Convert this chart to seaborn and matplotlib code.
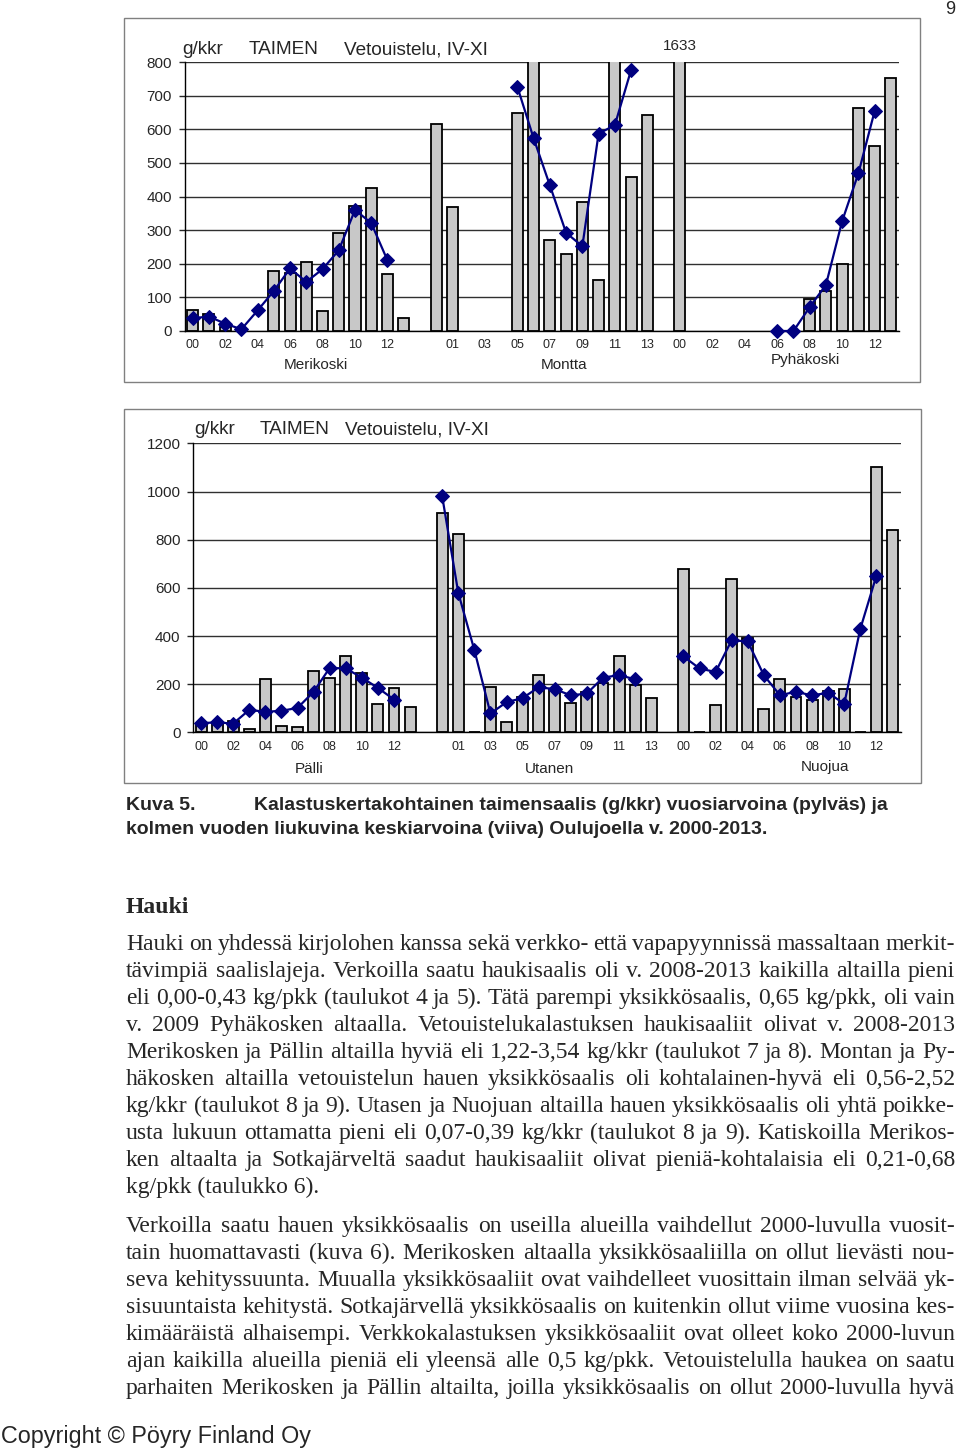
import numpy as np
import pandas as pd
import matplotlib
matplotlib.use("Agg")
import matplotlib.pyplot as plt
import seaborn as sns
from matplotlib.patches import Rectangle

nan = np.nan

# ---------------- data ----------------
years = ["00", "01", "02", "03", "04", "05", "06", "07", "08", "09", "10", "11", "12", "13"]

# top chart
merikoski_bar = [62, 52, 13, nan, nan, 179, 173, 205, 59, 290, 373, 426, 169, 39]
merikoski_avg = [38, 43, 22, 5, 61, 119, 186, 146, 184, 240, 360, 321, 210, nan]
montta_bar = [616, 369, nan, nan, nan, 648, 805, 270, 228, 383, 151, 1227, 459, 641]
montta_avg = [nan, nan, nan, nan, nan, 726, 573, 433, 292, 252, 587, 612, 776, nan]
pyhakoski_bar = [1633, nan, nan, nan, nan, nan, 0, 0, 94, 120, 200, 663, 550, 752]
pyhakoski_avg = [nan, nan, nan, nan, nan, nan, 0, 0, 71, 137, 327, 469, 654, nan]
top_groups = ["Merikoski", "Montta", "Pyhäkoski"]

# bottom chart
palli_bar = [32, 37, 48, 14, 221, 25, 24, 256, 228, 317, 249, 119, 185, 107]
palli_avg = [39, 42, 37, 94, 86, 90, 102, 169, 268, 266, 228, 185, 137, nan]
utanen_bar = [913, 826, 0, 191, 43, 147, 239, 180, 122, 170, 205, 316, 197, 144]
utanen_avg = [980, 579, 342, 79, 126, 143, 188, 180, 154, 162, 228, 238, 221, nan]
nuojua_bar = [677, 0, 116, 637, 393, 98, 221, 149, 136, 174, 179, 0, 1103, 839]
nuojua_avg = [316, 266, 251, 383, 378, 238, 155, 169, 154, 165, 119, 430, 651, nan]
bottom_groups = ["Pälli", "Utanen", "Nuojua"]

chart_title = ["g/kkr", "TAIMEN", "Vetouistelu, IV-XI"]
top_yticks = [0, 100, 200, 300, 400, 500, 600, 700, 800]
bottom_yticks = [0, 200, 400, 600, 800, 1000, 1200]
clipped_label = "1633"

caption_1a = "Kuva 5."
caption_1b = "Kalastuskertakohtainen taimensaalis (g/kkr) vuosiarvoina (pylväs) ja"
caption_2 = "kolmen vuoden liukuvina keskiarvoina (viiva) Oulujoella v. 2000-2013."
heading = "Hauki"
para1 = [
    "Hauki on yhdessä kirjolohen kanssa sekä verkko- että vapapyynnissä massaltaan merkit-",
    "tävimpiä saalislajeja. Verkoilla saatu haukisaalis oli v. 2008-2013 kaikilla altailla pieni",
    "eli 0,00-0,43 kg/pkk (taulukot 4 ja 5). Tätä parempi yksikkösaalis, 0,65 kg/pkk, oli vain",
    "v. 2009 Pyhäkosken altaalla. Vetouistelukalastuksen haukisaaliit olivat v. 2008-2013",
    "Merikosken ja Pällin altailla hyviä eli 1,22-3,54 kg/kkr (taulukot 7 ja 8). Montan ja Py-",
    "häkosken altailla vetouistelun hauen yksikkösaalis oli kohtalainen-hyvä eli 0,56-2,52",
    "kg/kkr (taulukot 8 ja 9). Utasen ja Nuojuan altailla hauen yksikkösaalis oli yhtä poikke-",
    "usta lukuun ottamatta pieni eli 0,07-0,39 kg/kkr (taulukot 8 ja 9). Katiskoilla Merikos-",
    "ken altaalta ja Sotkajärveltä saadut haukisaaliit olivat pieniä-kohtalaisia eli 0,21-0,68",
    "kg/pkk (taulukko 6).",
]
para2 = [
    "Verkoilla saatu hauen yksikkösaalis on useilla alueilla vaihdellut 2000-luvulla vuosit-",
    "tain huomattavasti (kuva 6). Merikosken altaalla yksikkösaaliilla on ollut lievästi nou-",
    "seva kehityssuunta. Muualla yksikkösaaliit ovat vaihdelleet vuosittain ilman selvää yk-",
    "sisuuntaista kehitystä. Sotkajärvellä yksikkösaalis on kuitenkin ollut viime vuosina kes-",
    "kimääräistä alhaisempi. Verkkokalastuksen yksikkösaaliit ovat olleet koko 2000-luvun",
    "ajan kaikilla alueilla pieniä eli yleensä alle 0,5 kg/pkk. Vetouistelulla haukea on saatu",
    "parhaiten Merikosken ja Pällin altailta, joilla yksikkösaalis on ollut 2000-luvulla hyvä",
]
copyright_text = "Copyright © Pöyry Finland Oy"
page_number = "9"

# ---------------- setup ----------------
sns.set_style("white")
plt.rcParams["font.family"] = ["Liberation Sans", "DejaVu Sans"]

W, H = 960, 1451
fig = plt.figure(figsize=(W / 100, H / 100), dpi=100)
fig.patch.set_facecolor("white")


def fx(px):
    return px / W


def fy(py):
    return 1 - py / H


BAR_COLOR = "#c8c8c8"
LINE_COLOR = "#000080"
N = 44  # 3 groups x 14 years + 2 gap slots


def build_frames(bars_list, avgs_list):
    rows_b, rows_a = [], []
    for g, (b, a) in enumerate(zip(bars_list, avgs_list)):
        for i in range(len(years)):
            pos = g * 15 + i
            if not np.isnan(b[i]):
                rows_b.append({"pos": pos, "val": b[i]})
            rows_a.append({"pos": pos, "val": a[i], "grp": g})
    return pd.DataFrame(rows_b), pd.DataFrame(rows_a)


def draw_chart(ax, bars_list, avgs_list, ymax, yticks):
    dfb, dfa = build_frames(bars_list, avgs_list)
    sns.barplot(data=dfb, x="pos", y="val", order=list(range(N)), color=BAR_COLOR,
                saturation=1, edgecolor="black", linewidth=1.3, width=0.68,
                errorbar=None, ax=ax, zorder=2)
    for g in range(len(avgs_list)):
        sub = dfa[(dfa["grp"] == g)].dropna()
        sns.lineplot(data=sub, x="pos", y="val", color=LINE_COLOR, marker="D",
                     markersize=7, markeredgecolor=LINE_COLOR, markerfacecolor=LINE_COLOR,
                     linewidth=1.6, ax=ax, clip_on=False, zorder=4)
    ax.set_xlim(-0.5, N - 0.5)
    ax.set_ylim(0, ymax)
    ax.set_yticks(yticks)
    ax.set_yticklabels([str(t) for t in yticks], fontsize=11)
    cat_labels = years + [""] + years + [""] + years
    ticks = list(range(0, N, 2))
    ax.set_xticks(ticks)
    ax.set_xticklabels([cat_labels[t] for t in ticks], fontsize=9)
    ax.tick_params(axis="x", length=0, pad=6)
    ax.tick_params(axis="y", length=4, width=1, direction="out", pad=5, left=True)
    ax.set_axisbelow(True)
    ax.yaxis.grid(True, color="#303030", linewidth=1.0)
    ax.xaxis.grid(False)
    for s in ["top", "right"]:
        ax.spines[s].set_visible(False)
    for s in ["left", "bottom"]:
        ax.spines[s].set_color("black")
        ax.spines[s].set_linewidth(1.0)
    ax.set_xlabel("")
    ax.set_ylabel("")
    ax.set_facecolor("white")


# ----- top chart -----
fig.add_artist(Rectangle((fx(124), fy(382)), fx(920) - fx(124), (382 - 18) / H,
                         transform=fig.transFigure, fill=False, edgecolor="#808080", linewidth=1.0))
ax1 = fig.add_axes([fx(184.5), fy(331), fx(899) - fx(184.5), (331 - 62) / H])
draw_chart(ax1, [merikoski_bar, montta_bar, pyhakoski_bar],
           [merikoski_avg, montta_avg, pyhakoski_avg], 800, top_yticks)
TS = 13.7
fig.text(fx(182), fy(50), chart_title[0], fontsize=TS, va="center", ha="left")
fig.text(fx(249), fy(50), chart_title[1], fontsize=TS, va="center", ha="left")
fig.text(fx(344), fy(50), chart_title[2], fontsize=TS, va="center", ha="left")
fig.text(fx(680), fy(46), clipped_label, fontsize=11, va="center", ha="center")
for name, xc, yc in zip(top_groups, [316, 564, 805], [365, 365, 360]):
    fig.text(fx(xc), fy(yc), name, fontsize=11, va="center", ha="center")

# ----- bottom chart -----
fig.add_artist(Rectangle((fx(124), fy(783)), fx(921) - fx(124), (783 - 409) / H,
                         transform=fig.transFigure, fill=False, edgecolor="#808080", linewidth=1.0))
ax2 = fig.add_axes([fx(193), fy(732.5), fx(900.5) - fx(193), (732.5 - 443.5) / H])
draw_chart(ax2, [palli_bar, utanen_bar, nuojua_bar],
           [palli_avg, utanen_avg, nuojua_avg], 1200, bottom_yticks)
fig.text(fx(194), fy(430), chart_title[0], fontsize=TS, va="center", ha="left")
fig.text(fx(260), fy(430), chart_title[1], fontsize=TS, va="center", ha="left")
fig.text(fx(345), fy(430), chart_title[2], fontsize=TS, va="center", ha="left")
for name, xc, yc in zip(bottom_groups, [309, 549, 825], [769, 769, 767]):
    fig.text(fx(xc), fy(yc), name, fontsize=11, va="center", ha="center")

# ----- caption -----
CS = 14
fig.text(fx(126), fy(806), caption_1a, fontsize=CS, fontweight="bold", va="center", ha="left")
fig.text(fx(254), fy(806), caption_1b, fontsize=CS, fontweight="bold", va="center", ha="left")
fig.text(fx(126), fy(829), caption_2, fontsize=CS, fontweight="bold", va="center", ha="left")

# ----- body text -----
SERIF = ["Liberation Serif", "DejaVu Serif"]
BS = 17
fig.text(fx(126), fy(913), heading, fontsize=BS, fontweight="bold", family=SERIF,
         va="baseline", ha="left")

renderer = fig.canvas.get_renderer()


def justified(lines, x0, x1, base0, dy, size, justify_last):
    for i, line in enumerate(lines):
        yb = fy(base0 + i * dy)
        last = (i == len(lines) - 1)
        if last and not justify_last:
            fig.text(fx(x0), yb, line, fontsize=size, family=SERIF, va="baseline", ha="left")
            continue
        words = line.split(" ")
        texts = [fig.text(0, yb, w, fontsize=size, family=SERIF, va="baseline", ha="left")
                 for w in words]
        widths = [t.get_window_extent(renderer).width for t in texts]
        gap = (x1 - x0 - sum(widths)) / max(len(words) - 1, 1)
        x = x0
        for t, w in zip(texts, widths):
            t.set_x(fx(x))
            x += w + gap


justified(para1, 126, 955, 950, 27, BS, False)
justified(para2, 126, 955, 1232, 27, BS, True)

fig.text(fx(1), fy(1436), copyright_text, fontsize=16.8, va="center", ha="left")
fig.text(fx(950), fy(9), page_number, fontsize=13, va="center", ha="center")

fig.savefig("out.png", dpi=100)
